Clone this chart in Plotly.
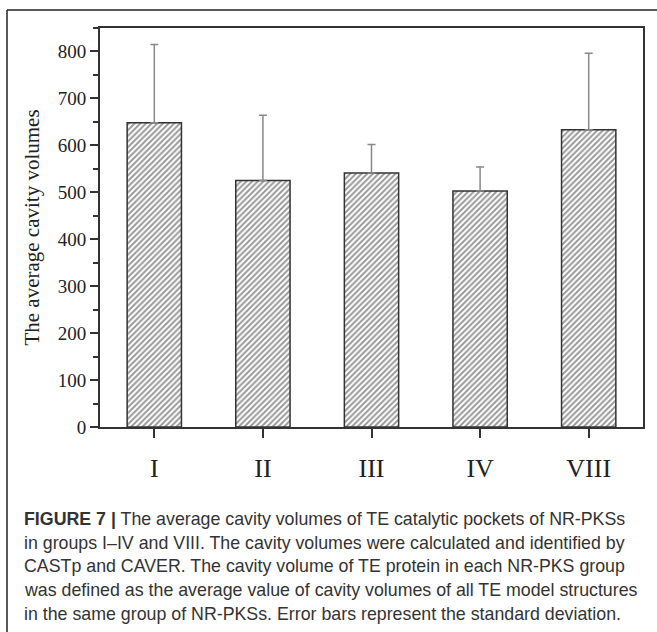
import plotly.graph_objects as go

categories = ["I", "II", "III", "IV", "VIII"]
means = [648, 525, 541, 503, 633]
sds = [167, 139, 61, 51, 163]

caption_lines = [
    "<b>FIGURE 7 |</b> The average cavity volumes of TE catalytic pockets of NR-PKSs",
    "in groups I–IV and VIII. The cavity volumes were calculated and identified by",
    "CASTp and CAVER. The cavity volume of TE protein in each NR-PKS group",
    "was defined as the average value of cavity volumes of all TE model structures",
    "in the same group of NR-PKSs. Error bars represent the standard deviation.",
]

W, H = 657, 632
L, R, T, B = 100, 643, 28, 427
pw, ph = R - L, B - T

def px(x):
    return (x - L) / pw

def py(y):
    return (B - y) / ph

xs = list(range(len(categories)))

fig = go.Figure()
fig.add_trace(go.Bar(
    x=xs, y=means, width=0.5,
    marker=dict(color="white",
                line=dict(color="#333333", width=1.5),
                pattern=dict(shape="/", fgcolor="#333333", bgcolor="white",
                             size=4, solidity=0.5)),
    error_y=dict(type="data", array=sds, arrayminus=[0] * len(sds),
                 symmetric=False, color="#888888", thickness=1.5, width=4),
    showlegend=False,
))

serif = "Times New Roman, Liberation Serif, serif"
fig.update_layout(
    width=W, height=H,
    margin=dict(l=L, r=W - R, t=T, b=H - B, pad=0),
    paper_bgcolor="white", plot_bgcolor="white",
    font=dict(family=serif, color="#222222"),
    xaxis=dict(range=[-0.5, 4.5], tickmode="array", tickvals=xs, ticktext=categories,
               showgrid=False, zeroline=False, showline=True, mirror=True,
               linecolor="#333333", linewidth=2, ticks="outside", ticklen=9,
               tickwidth=1.5, tickcolor="#333333", ticklabelstandoff=8,
               tickfont=dict(family=serif, size=26, color="#222222")),
    yaxis=dict(range=[0, 850], tickmode="array", tickvals=list(range(0, 801, 100)),
               showgrid=False, zeroline=False, showline=True, mirror=True,
               linecolor="#333333", linewidth=2, ticks="outside", ticklen=8,
               tickwidth=1.5, tickcolor="#333333",
               minor=dict(tickvals=list(range(50, 851, 100)), ticks="outside",
                          ticklen=5, tickwidth=1.5, tickcolor="#333333"),
               tickfont=dict(family=serif, size=19, color="#222222"),
               title=dict(text="The average cavity volumes",
                          font=dict(family=serif, size=21, color="#222222"),
                          standoff=12)),
)

# outer card border (top and left)
fig.add_shape(type="line", xref="paper", yref="paper",
              x0=px(7), y0=py(10), x1=px(W + 5), y1=py(10),
              line=dict(color="#222222", width=1.5))
fig.add_shape(type="line", xref="paper", yref="paper",
              x0=px(7), y0=py(10), x1=px(7), y1=py(H + 5),
              line=dict(color="#222222", width=1.5))

line_y = [519, 543, 566, 590, 614]
for txt, yy in zip(caption_lines, line_y):
    fig.add_annotation(text=txt, xref="paper", yref="paper",
                       x=px(22), y=py(yy), xanchor="left", yanchor="middle",
                       showarrow=False, align="left",
                       font=dict(family="Liberation Sans, Arial, sans-serif",
                                 size=17.8, color="#333333"))

fig.write_html("out.html")
